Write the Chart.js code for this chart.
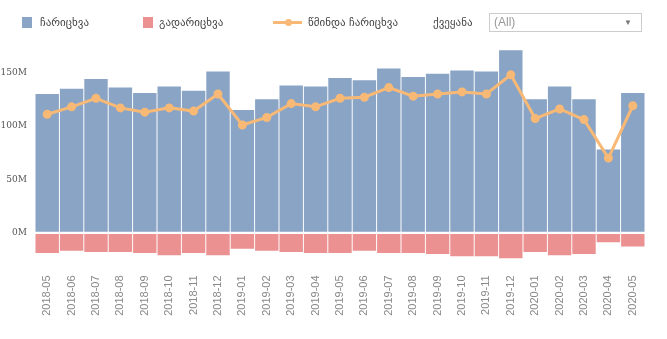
<!DOCTYPE html>
<html>
<head>
<meta charset="utf-8">
<script src="https://cdn.jsdelivr.net/npm/chart.js@4.4.0/dist/chart.umd.min.js"></script>
<style>
  body { margin: 0; background: #fff; font-family: "DejaVu Sans", sans-serif; }
  #wrap { position: relative; width: 667px; height: 339px; }
  #myChart { position: absolute; left: 0; top: 0; }
  .lg { position: absolute; top: 16px; height: 14px; font-size: 11px; color: #444; line-height: 14px; white-space: nowrap; }
  .sq { position: absolute; width: 10px; height: 11px; top: 17px; }
  .ln { position: absolute; top: 21px; width: 29px; height: 3px; }
  .dot { position: absolute; top: 19px; width: 7px; height: 7px; border-radius: 50%; }
  #sel { position: absolute; left: 489px; top: 13px; width: 153px; height: 19px; border: 1px solid #ccc; box-sizing: border-box;
         font-family: "Liberation Sans", sans-serif; font-size: 12px; color: #999; line-height: 17px; padding-left: 4px; }
  #sel span { position: absolute; right: 9px; top: 0; font-size: 8px; color: #777; }
</style>
</head>
<body>
<div id="wrap">
  <canvas id="myChart" width="667" height="339"></canvas>
  <div class="sq" style="left:22px;background:rgb(137,164,197)"></div>
  <div class="lg" id="lg0" style="left:40px"></div>
  <div class="sq" style="left:143px;background:rgb(235,145,145)"></div>
  <div class="lg" id="lg1" style="left:159px"></div>
  <div class="ln" style="left:273px;background:rgb(248,185,118)"></div>
  <div class="dot" style="left:285px;background:rgb(248,185,118)"></div>
  <div class="lg" id="lg2" style="left:308px"></div>
  <div class="lg" id="lg3" style="left:433px"></div>
  <div id="sel">(All)<span>&#9660;</span></div>
</div>
<script>
// |------------------------------- data -------------------------------|
var months = ['2018-05','2018-06','2018-07','2018-08','2018-09','2018-10','2018-11','2018-12',
  '2019-01','2019-02','2019-03','2019-04','2019-05','2019-06','2019-07','2019-08','2019-09',
  '2019-10','2019-11','2019-12','2020-01','2020-02','2020-03','2020-04','2020-05'];
var inflow = [130, 135, 144, 136, 131, 137, 133, 151, 115, 125, 138, 137, 145, 143, 154,
  146, 149, 152, 151, 171, 125, 137, 125, 78, 131];
var outflow = [-19, -17, -18, -18, -19, -21, -19, -21, -15, -17, -18, -19, -19, -17, -19,
  -19, -20, -22, -22, -24, -18, -21, -20, -9, -13];
var net = [111, 118, 126, 117, 113, 117, 114, 130, 101, 108, 121, 118, 126, 127, 136,
  128, 130, 132, 130, 148, 107, 116, 106, 70, 119];
var seriesNames = ['ჩარიცხვა', 'გადარიცხვა', 'წმინდა ჩარიცხვა'];
var filterLabel = 'ქვეყანა';
var yTicks = [0, 50, 100, 150];

var blue = 'rgb(137,164,197)';
var red = 'rgb(235,145,145)';
var orange = 'rgb(248,185,118)';

// legend text (html legend, chart legend is off)
document.getElementById('lg0').textContent = seriesNames[0];
document.getElementById('lg1').textContent = seriesNames[1];
document.getElementById('lg2').textContent = seriesNames[2];
document.getElementById('lg3').textContent = filterLabel;

// |------------------------------- Chart.js - bar + line -------------------------------|
var ctx = document.getElementById('myChart').getContext('2d');
var myChart = new Chart(ctx, {
  type: 'bar',
  data: {
    labels: months,
    datasets: [{
      type: 'line',
      label: seriesNames[2],
      data: net,
      borderColor: orange,
      backgroundColor: orange,
      borderWidth: 3,
      pointRadius: 3,
      pointHoverRadius: 4,
      tension: 0,
      order: 0
    }, {
      label: seriesNames[0],
      data: inflow,
      backgroundColor: blue,
      grouped: false,
      barPercentage: 0.96,
      categoryPercentage: 1,
      order: 1
    }, {
      label: seriesNames[1],
      data: outflow,
      backgroundColor: red,
      grouped: false,
      barPercentage: 0.96,
      categoryPercentage: 1,
      order: 1
    }]
  },
  options: {
    responsive: false,
    animation: false,
    layout: { padding: { top: 46, right: 22, bottom: 0, left: 0 } },
    scales: {
      x: {
        grid: { display: false, drawTicks: false },
        border: { display: false },
        ticks: {
          minRotation: 90,
          maxRotation: 90,
          padding: 16,
          color: '#888',
          font: { family: 'Liberation Sans', size: 11 }
        },
        afterFit: function (scale) { scale.height = 79.6; }
      },
      y: {
        min: -25,
        max: 175,
        border: { display: false },
        grid: {
          z: 1,
          drawTicks: false,
          lineWidth: 2,
          color: function (c) { return c.tick && c.tick.value === 0 ? '#fff' : 'rgba(0,0,0,0)'; }
        },
        ticks: {
          padding: 8,
          color: '#555',
          font: { family: 'DejaVu Serif', size: 9 },
          callback: function (v) { return v + 'M'; }
        },
        afterBuildTicks: function (scale) {
          scale.ticks = yTicks.map(function (v) { return { value: v }; });
        },
        afterFit: function (scale) { scale.width = 35; }
      }
    },
    plugins: {
      legend: { display: false },
      tooltip: { enabled: true }
    }
  }
});
</script>
</body>
</html>
